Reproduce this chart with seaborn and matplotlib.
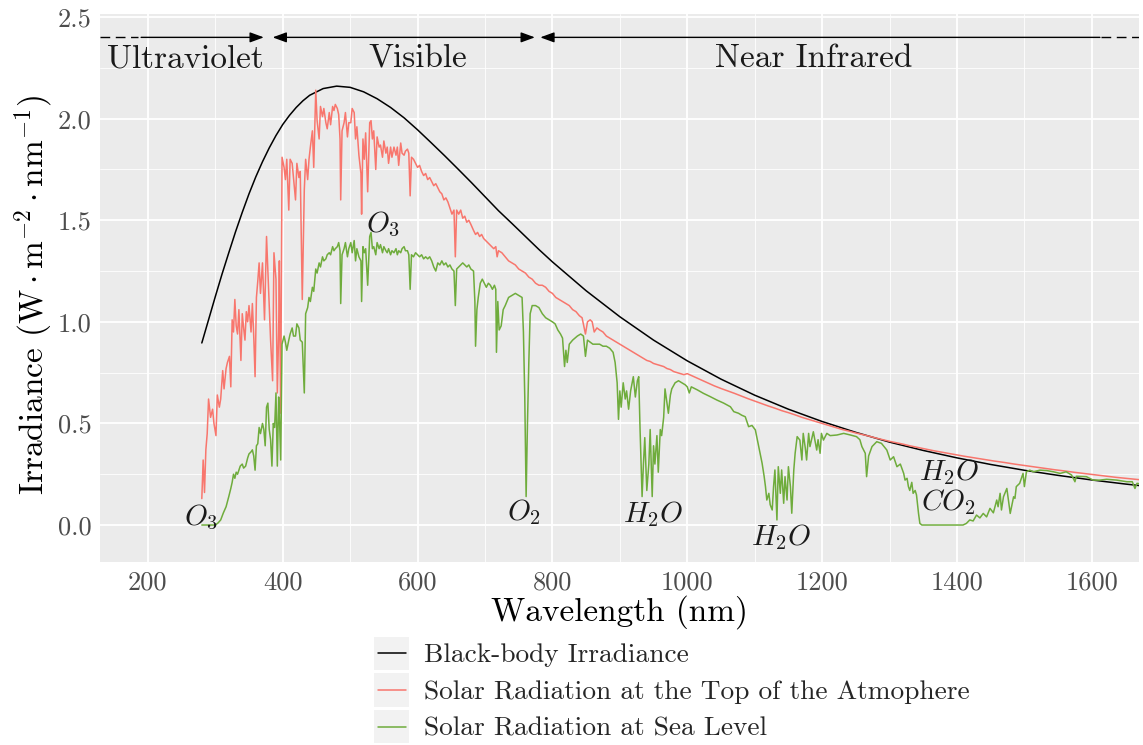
import numpy as np
import pandas as pd
import matplotlib
matplotlib.use("Agg")
import matplotlib.pyplot as plt
import seaborn as sns
from matplotlib.lines import Line2D
from matplotlib.patches import Rectangle
from matplotlib.legend_handler import HandlerLine2D
from matplotlib.ticker import MultipleLocator

# ---------------- data ----------------
bb_wl = [280, 290, 300, 310, 320, 330, 340, 350, 360, 370, 380, 390, 400, 410, 420,
         430, 440, 460, 480, 500, 520, 540, 560, 580, 600, 620, 640, 660, 680, 700,
         720, 740, 760, 780, 800, 850, 900, 950, 1000, 1050, 1100, 1150, 1200, 1250,
         1300, 1350, 1400, 1450, 1500, 1550, 1600, 1650, 1700]
bb_val = [0.896, 1.010, 1.124, 1.235, 1.340, 1.443, 1.539, 1.630, 1.713, 1.788, 1.856,
          1.917, 1.971, 2.016, 2.055, 2.088, 2.115, 2.148, 2.160, 2.154, 2.132, 2.098,
          2.055, 2.004, 1.945, 1.882, 1.818, 1.752, 1.685, 1.616, 1.547, 1.484, 1.420,
          1.356, 1.295, 1.153, 1.025, 0.910, 0.808, 0.718, 0.639, 0.570, 0.5095, 0.456,
          0.408, 0.367, 0.3305, 0.298, 0.2695, 0.2443, 0.2217, 0.2016, 0.1836]

toa_wl = [280, 282, 284, 286, 288, 290, 293, 296, 298, 301, 303, 306, 308, 311, 313,
          316, 318, 321, 323, 325, 327, 329, 331, 333, 335, 338, 340, 342, 344, 346,
          348, 350, 353, 355, 357, 359, 361, 363, 365, 367, 370, 373, 376, 379, 382,
          385, 387, 390, 392, 394, 395, 397, 399, 402, 404, 406, 409, 411, 414, 416,
          419, 421, 424, 426, 429, 432, 434, 437, 439, 441, 444, 446, 449, 451, 454,
          456, 459, 461, 464, 466, 469, 471, 474, 476, 478, 481, 483, 485, 486, 488,
          491, 493, 496, 498, 501, 503, 506, 508, 510, 513, 516, 517, 519, 521, 523,
          526, 529, 531, 533, 535, 538, 540, 543, 545, 548, 550, 553, 555, 557, 560,
          562, 565, 568, 570, 572, 575, 577, 580, 582, 585, 587, 589, 591, 594, 597,
          600, 603, 606, 609, 612, 615, 618, 621, 624, 627, 630, 633, 636, 639, 642,
          645, 648, 651, 654, 656, 658, 661, 664, 667, 670, 673, 676, 679, 683, 686,
          689, 692, 695, 698, 701, 704, 707, 710, 713, 716, 718, 720, 725, 730, 735,
          740, 745, 750, 755, 760, 765, 770, 775, 780, 785, 790, 795, 800, 805, 810,
          815, 820, 825, 830, 835, 840, 844, 849, 852, 856, 859, 862, 866, 870, 875,
          880, 885, 890, 895, 900, 905, 910, 915, 920, 925, 930, 935, 940, 945, 950,
          955, 960, 965, 970, 975, 980, 985, 990, 995, 1000, 1010, 1020, 1030, 1040,
          1050, 1060, 1070, 1080, 1090, 1100, 1110, 1120, 1130, 1140, 1150, 1160, 1170,
          1180, 1190, 1200, 1210, 1220, 1230, 1240, 1250, 1260, 1270, 1280, 1290, 1300,
          1310, 1320, 1330, 1340, 1350, 1365, 1380, 1395, 1410, 1425, 1440, 1455, 1470,
          1485, 1500, 1515, 1530, 1545, 1560, 1575, 1590, 1605, 1620, 1635, 1650, 1665,
          1680]
toa_val = [0.13, 0.32, 0.16, 0.37, 0.45, 0.62, 0.53, 0.57, 0.50, 0.44, 0.64, 0.58, 0.62,
           0.76, 0.67, 0.77, 0.80, 0.83, 0.68, 1.01, 0.95, 1.11, 0.98, 0.94, 1.06, 0.81,
           1.04, 0.97, 0.91, 1.05, 1.00, 1.08, 0.95, 1.09, 0.93, 0.73, 1.12, 1.20, 1.29,
           1.14, 1.29, 1.01, 1.42, 1.17, 0.91, 0.71, 1.34, 1.21, 0.65, 0.95, 1.30, 0.55,
           1.81, 1.76, 1.70, 1.80, 1.55, 1.80, 1.78, 1.71, 1.60, 1.78, 1.71, 1.74, 1.11,
           1.65, 1.80, 1.70, 1.80, 1.86, 1.94, 1.76, 2.14, 1.99, 1.90, 2.06, 2.01, 2.05,
           1.98, 1.95, 2.03, 1.97, 2.06, 2.04, 2.07, 2.05, 2.02, 1.90, 1.60, 1.94, 1.98,
           2.03, 1.91, 1.98, 1.98, 2.05, 2.03, 1.90, 1.96, 1.82, 1.73, 1.53, 1.90, 1.80,
           1.93, 1.64, 1.98, 1.99, 1.90, 1.94, 1.75, 1.91, 1.86, 1.87, 1.81, 1.89, 1.83,
           1.86, 1.78, 1.86, 1.81, 1.86, 1.82, 1.86, 1.77, 1.88, 1.83, 1.82, 1.84, 1.85,
           1.83, 1.62, 1.81, 1.80, 1.78, 1.76, 1.77, 1.74, 1.72, 1.73, 1.70, 1.71, 1.69,
           1.67, 1.68, 1.66, 1.64, 1.63, 1.60, 1.61, 1.59, 1.56, 1.53, 1.55, 1.32, 1.55,
           1.53, 1.55, 1.51, 1.52, 1.49, 1.50, 1.48, 1.45, 1.43, 1.44, 1.42, 1.43, 1.41,
           1.40, 1.39, 1.38, 1.37, 1.36, 1.37, 1.32, 1.35, 1.34, 1.32, 1.30, 1.29, 1.28,
           1.26, 1.25, 1.24, 1.22, 1.21, 1.19, 1.18, 1.18, 1.17, 1.15, 1.14, 1.12, 1.11,
           1.10, 1.09, 1.08, 1.06, 1.05, 1.03, 1.02, 0.94, 1.00, 1.01, 1.00, 0.95, 0.97,
           0.96, 0.95, 0.93, 0.92, 0.91, 0.90, 0.89, 0.88, 0.87, 0.86, 0.85, 0.84, 0.83,
           0.82, 0.81, 0.805, 0.795, 0.79, 0.785, 0.78, 0.77, 0.765, 0.755, 0.75, 0.745,
           0.74, 0.745, 0.73, 0.715, 0.70, 0.685, 0.672, 0.66, 0.648, 0.635, 0.622, 0.61,
           0.598, 0.586, 0.575, 0.563, 0.553, 0.542, 0.53, 0.52, 0.51, 0.50, 0.49, 0.48,
           0.47, 0.462, 0.453, 0.445, 0.437, 0.428, 0.42, 0.412, 0.405, 0.398, 0.39, 0.383,
           0.376, 0.366, 0.357, 0.348, 0.339, 0.331, 0.323, 0.315, 0.308, 0.30, 0.293,
           0.286, 0.279, 0.272, 0.266, 0.259, 0.253, 0.247, 0.241, 0.235, 0.23, 0.225, 0.22]

sea_wl = [280, 285, 290, 295, 300, 304, 308, 312, 316, 320, 323, 325, 327, 329, 331, 333,
          335, 337, 340, 342, 345, 348, 350, 353, 355, 357, 359, 361, 363, 365, 367, 370,
          372, 374, 376, 378, 380, 382, 384, 386, 388, 390, 392, 394, 395, 397, 399, 402,
          404, 406, 409, 411, 414, 416, 419, 421, 424, 426, 429, 432, 434, 437, 439, 441,
          444, 446, 449, 451, 454, 456, 459, 461, 464, 466, 469, 471, 474, 476, 478, 481,
          483, 485, 486, 488, 491, 493, 496, 498, 501, 503, 506, 508, 510, 513, 516, 517,
          519, 521, 523, 526, 529, 531, 533, 535, 538, 540, 543, 545, 548, 550, 553, 555,
          557, 560, 562, 565, 568, 570, 572, 575, 577, 580, 582, 585, 587, 589, 591, 594,
          597, 600, 603, 606, 609, 612, 615, 618, 621, 624, 627, 630, 633, 636, 639, 642,
          645, 648, 651, 654, 656, 658, 661, 664, 667, 670, 673, 676, 679, 683, 685, 686,
          688, 690, 693, 696, 699, 702, 705, 708, 711, 714, 716, 717, 719, 721, 724, 727,
          730, 735, 740, 745, 750, 755, 757, 759, 761, 763, 765, 767, 770, 775, 780, 785,
          790, 795, 800, 804, 808, 812, 815, 818, 820, 822, 825, 830, 837, 842, 846, 849,
          852, 856, 860, 865, 870, 875, 880, 885, 890, 893, 896, 898, 900, 902, 905, 908,
          910, 913, 916, 920, 923, 926, 928, 930, 933, 935, 937, 940, 943, 945, 948, 950,
          952, 955, 957, 960, 962, 965, 967, 970, 972, 975, 977, 982, 987, 992, 997, 1000,
          1003, 1006, 1015, 1024, 1034, 1044, 1054, 1064, 1069, 1076, 1081, 1086, 1091,
          1096, 1101, 1106, 1111, 1114, 1116, 1118, 1121, 1123, 1126, 1128, 1130, 1133,
          1135, 1138, 1140, 1143, 1145, 1148, 1150, 1153, 1155, 1158, 1160, 1163, 1167,
          1170, 1172, 1175, 1177, 1180, 1182, 1187, 1192, 1194, 1197, 1199, 1202, 1207,
          1212, 1222, 1232, 1242, 1251, 1256, 1259, 1264, 1266, 1269, 1274, 1281, 1288,
          1296, 1301, 1306, 1311, 1316, 1321, 1323, 1326, 1328, 1330, 1333, 1335, 1338,
          1340, 1343, 1345, 1348, 1409, 1414, 1419, 1424, 1429, 1434, 1439, 1444, 1449,
          1454, 1459, 1461, 1464, 1466, 1469, 1474, 1479, 1484, 1486, 1488, 1493, 1498,
          1500, 1503, 1508, 1513, 1523, 1533, 1543, 1553, 1562, 1570, 1575, 1577, 1592,
          1602, 1612, 1622, 1637, 1652, 1660, 1664, 1667, 1680]
sea_val = [0.0, 0.0, 0.0, 0.0, 0.0, 0.01, 0.025, 0.06, 0.09, 0.14, 0.18, 0.21, 0.25, 0.23,
           0.26, 0.25, 0.27, 0.29, 0.30, 0.28, 0.29, 0.33, 0.35, 0.36, 0.37, 0.34, 0.27,
           0.39, 0.40, 0.48, 0.45, 0.50, 0.47, 0.39, 0.58, 0.60, 0.47, 0.42, 0.29, 0.50,
           0.48, 0.65, 0.29, 0.63, 0.55, 0.32, 0.89, 0.93, 0.90, 0.86, 0.91, 0.94, 0.97,
           0.93, 0.93, 0.99, 0.97, 0.91, 0.90, 0.65, 1.04, 1.07, 1.12, 1.10, 1.17, 1.15,
           1.26, 1.24, 1.29, 1.27, 1.32, 1.30, 1.31, 1.33, 1.34, 1.33, 1.37, 1.35, 1.36,
           1.37, 1.39, 1.35, 1.09, 1.33, 1.36, 1.39, 1.32, 1.36, 1.39, 1.34, 1.40, 1.30,
           1.36, 1.32, 1.30, 1.10, 1.37, 1.34, 1.36, 1.18, 1.42, 1.44, 1.36, 1.37, 1.33,
           1.39, 1.36, 1.38, 1.34, 1.37, 1.35, 1.34, 1.36, 1.33, 1.35, 1.34, 1.36, 1.33,
           1.35, 1.34, 1.36, 1.37, 1.35, 1.35, 1.33, 1.16, 1.33, 1.32, 1.34, 1.33, 1.32,
           1.33, 1.31, 1.32, 1.31, 1.32, 1.30, 1.27, 1.25, 1.29, 1.28, 1.30, 1.28, 1.29,
           1.27, 1.28, 1.26, 1.25, 1.08, 1.26, 1.27, 1.28, 1.29, 1.28, 1.27, 1.28, 1.26,
           1.25, 1.10, 0.88, 1.06, 1.12, 1.19, 1.21, 1.19, 1.17, 1.19, 1.18, 1.16, 1.18,
           1.16, 0.85, 1.10, 0.96, 0.98, 1.06, 1.08, 1.12, 1.13, 1.14, 1.13, 1.12, 0.95,
           0.63, 0.14, 0.50, 0.80, 1.04, 1.08, 1.08, 1.07, 1.04, 1.02, 1.01, 1.00, 0.99,
           0.96, 0.94, 0.92, 0.78, 0.86, 0.80, 0.89, 0.91, 0.93, 0.94, 0.93, 0.83, 0.91,
           0.90, 0.89, 0.89, 0.89, 0.88, 0.88, 0.87, 0.85, 0.80, 0.70, 0.52, 0.66, 0.58,
           0.70, 0.62, 0.66, 0.57, 0.66, 0.73, 0.63, 0.71, 0.73, 0.47, 0.14, 0.30, 0.43,
           0.17, 0.30, 0.47, 0.14, 0.39, 0.30, 0.44, 0.26, 0.47, 0.44, 0.53, 0.67, 0.60,
           0.55, 0.64, 0.67, 0.70, 0.71, 0.70, 0.69, 0.68, 0.65, 0.68, 0.665, 0.648, 0.632,
           0.615, 0.60, 0.582, 0.558, 0.55, 0.54, 0.533, 0.484, 0.49, 0.468, 0.386, 0.304,
           0.24, 0.189, 0.123, 0.156, 0.10, 0.074, 0.189, 0.271, 0.025, 0.287, 0.156, 0.271,
           0.107, 0.238, 0.123, 0.287, 0.189, 0.058, 0.271, 0.353, 0.435, 0.418, 0.32,
           0.451, 0.38, 0.32, 0.451, 0.386, 0.459, 0.369, 0.42, 0.353, 0.451, 0.418, 0.451,
           0.44, 0.443, 0.451, 0.443, 0.435, 0.42, 0.386, 0.353, 0.238, 0.34, 0.386, 0.41,
           0.402, 0.369, 0.32, 0.336, 0.287, 0.30, 0.254, 0.221, 0.23, 0.189, 0.17, 0.21,
           0.156, 0.17, 0.148, 0.057, 0.008, 0.0, 0.0, 0.008, 0.025, 0.02, 0.049, 0.035,
           0.057, 0.04, 0.082, 0.06, 0.123, 0.09, 0.156, 0.074, 0.139, 0.18, 0.057, 0.139,
           0.131, 0.189, 0.205, 0.254, 0.189, 0.262, 0.27, 0.262, 0.27, 0.268, 0.262, 0.254,
           0.262, 0.246, 0.213, 0.24, 0.238, 0.221, 0.221, 0.225, 0.221, 0.213, 0.213, 0.18,
           0.205, 0.20]

series_names = ["Black-body Irradiance",
                "Solar Radiation at the Top of the Atmophere",
                "Solar Radiation at Sea Level"]
series_colors = ["#000000", "#F8766D", "#6FAC3C"]

x_ticks = [200, 400, 600, 800, 1000, 1200, 1400, 1600]
x_tick_labels = ["200", "400", "600", "800", "1000", "1200", "1400", "1600"]
y_ticks = [0.0, 0.5, 1.0, 1.5, 2.0, 2.5]
y_tick_labels = ["0.0", "0.5", "1.0", "1.5", "2.0", "2.5"]

region_names = ["Ultraviolet", "Visible", "Near Infrared"]
region_label_x = [255, 600, 1188]

chem_labels = [r"$O_3$", r"$O_3$", r"$O_2$", r"$H_2O$", r"$H_2O$", r"$H_2O$", r"$CO_2$"]
chem_x = [278, 549, 758, 949, 1139, 1388, 1387]
chem_y = [0.039, 1.48, 0.066, 0.052, -0.06, 0.26, 0.113]

# ---------------- styling ----------------
sns.set_theme(style="darkgrid", rc={
    "axes.facecolor": "#EBEBEB",
    "grid.color": "white",
    "axes.edgecolor": "none",
})
plt.rcParams["font.family"] = ["cmr10", "DejaVu Serif"]
plt.rcParams["mathtext.fontset"] = "cm"
plt.rcParams["axes.formatter.use_mathtext"] = True
plt.rcParams["axes.unicode_minus"] = False

W, H = 1143, 745
fig = plt.figure(figsize=(W / 100, H / 100), dpi=100)
fig.patch.set_facecolor("white")
ax = fig.add_axes([100 / W, 1 - 562 / H, 1039 / W, 548 / H])

df = pd.concat([
    pd.DataFrame({"wavelength": bb_wl, "irradiance": bb_val, "series": series_names[0]}),
    pd.DataFrame({"wavelength": toa_wl, "irradiance": toa_val, "series": series_names[1]}),
    pd.DataFrame({"wavelength": sea_wl, "irradiance": sea_val, "series": series_names[2]}),
], ignore_index=True)

sns.lineplot(data=df, x="wavelength", y="irradiance", hue="series",
             hue_order=series_names, palette=dict(zip(series_names, series_colors)),
             estimator=None, linewidth=1.1, ax=ax)

ax.set_xlim(129, 1670)
ax.set_ylim(-0.182, 2.515)
for s in ax.spines.values():
    s.set_visible(False)

ax.set_xticks(x_ticks)
ax.set_xticklabels(x_tick_labels)
ax.set_yticks(y_ticks)
ax.set_yticklabels(y_tick_labels)
ax.xaxis.set_minor_locator(MultipleLocator(100))
ax.yaxis.set_minor_locator(MultipleLocator(0.25))
ax.grid(which="major", color="white", linewidth=1.3)
ax.grid(which="minor", color="white", linewidth=0.6)
ax.set_axisbelow(True)
ax.tick_params(which="major", length=4.5, width=1.0, color="#333333",
               labelsize=19, labelcolor="#4D4D4D", pad=1.5)
ax.tick_params(which="minor", length=0)

ax.set_xlabel("Wavelength (nm)", fontsize=24, color="black")
ax.xaxis.set_label_coords(0.5, -0.060)
ax.set_ylabel(r"Irradiance $(\mathrm{W}\cdot\mathrm{m}^{-2}\cdot\mathrm{nm}^{-1})$",
              fontsize=24, color="black")
ax.yaxis.set_label_coords(-0.043, 0.487)

# region arrows
arrow_y = 2.40
akw = dict(color="black", lw=1.0, shrinkA=0, shrinkB=0, mutation_scale=14)
ax.plot([129, 186], [arrow_y, arrow_y], color="black", lw=1.0, ls=(0, (7, 4)))
ax.annotate("", xy=(372, arrow_y), xytext=(190, arrow_y),
            arrowprops=dict(arrowstyle="-|>,head_length=0.6,head_width=0.22", **akw))
ax.annotate("", xy=(774, arrow_y), xytext=(385, arrow_y),
            arrowprops=dict(arrowstyle="<|-|>,head_length=0.6,head_width=0.22", **akw))
ax.annotate("", xy=(782, arrow_y), xytext=(1612, arrow_y),
            arrowprops=dict(arrowstyle="-|>,head_length=0.6,head_width=0.22", **akw))
ax.plot([1614, 1670], [arrow_y, arrow_y], color="black", lw=1.0, ls=(0, (7, 4)))

for name, xx in zip(region_names, region_label_x):
    ax.text(xx, 2.252, name, ha="center", va="baseline", fontsize=24, color="#1A1A1A")

for lab, xx, yy in zip(chem_labels, chem_x, chem_y):
    ax.text(xx, yy, lab, ha="center", va="center", fontsize=21, color="#1A1A1A")


class KeyHandler(HandlerLine2D):
    def create_artists(self, legend, orig_handle, xdescent, ydescent, width, height,
                       fontsize, trans):
        rect = Rectangle((-xdescent, -ydescent), width, height, facecolor="#F2F2F2",
                         edgecolor="none", transform=trans)
        yc = -ydescent + height / 2
        line = Line2D([-xdescent + 0.1 * width, -xdescent + 0.9 * width], [yc, yc],
                      color=orig_handle.get_color(), lw=orig_handle.get_linewidth(),
                      transform=trans)
        return [rect, line]


handles, labels = ax.get_legend_handles_labels()
ax.legend(handles, labels, handler_map={Line2D: KeyHandler()},
          loc="center left", bbox_to_anchor=(374 / W, 1 - 690 / H),
          bbox_transform=fig.transFigure, frameon=False, fontsize=19.7,
          handlelength=1.28, handleheight=1.5, labelspacing=0.12,
          handletextpad=0.55, borderpad=0, borderaxespad=0)

fig.savefig("out.png", dpi=100, facecolor="white")
